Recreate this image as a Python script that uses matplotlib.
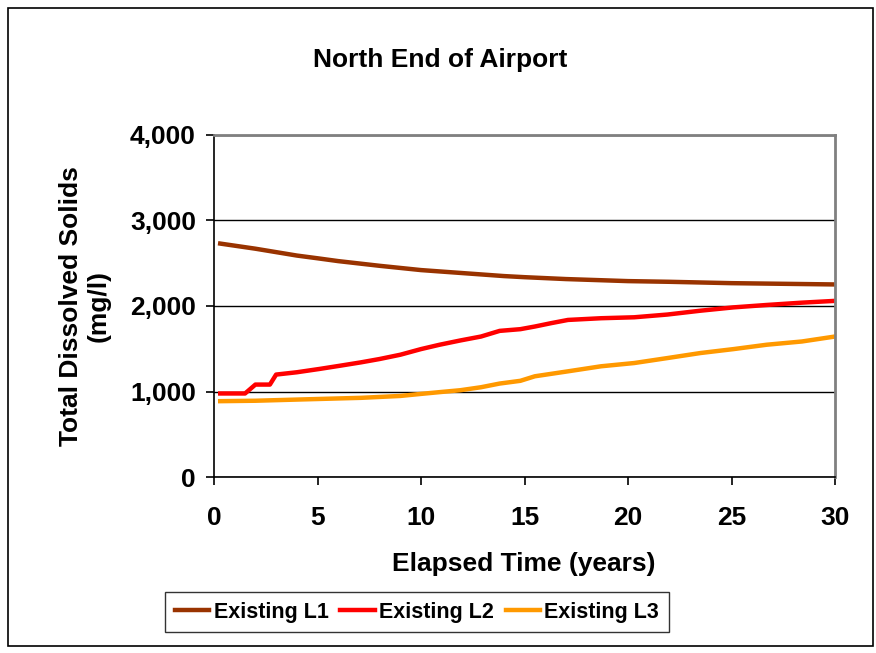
import matplotlib
matplotlib.use("Agg")
import matplotlib.pyplot as plt
from matplotlib.patches import Rectangle
from matplotlib.ticker import FuncFormatter

plt.rcParams['font.family'] = ['Liberation Sans', 'DejaVu Sans']
plt.rcParams['font.weight'] = 'bold'

# Total dissolved solids (mg/l) vs elapsed time (years)
l1_years = [0.3, 2, 4, 5, 6, 8, 9, 10, 12, 14, 15, 17, 20, 22, 25, 28, 30]
l1_tds = [2730, 2670, 2590, 2558, 2525, 2470, 2445, 2420, 2385, 2350, 2337, 2315, 2291, 2283, 2267, 2258, 2252]

l2_years = [0.3, 1.5, 2.0, 2.7, 3.0, 4.0, 5.1, 6.1, 7.1, 8.0, 9.0, 10.0, 10.9, 11.9, 12.9,
            13.8, 14.8, 15.5, 16.3, 17.1, 18.7, 20.3, 21.9, 23.5, 25.1, 26.7, 28.4, 30.0]
l2_tds = [977, 977, 1081, 1081, 1198, 1225, 1264, 1302, 1341, 1380, 1430, 1496, 1547, 1597, 1643,
          1709, 1729, 1760, 1800, 1837, 1857, 1868, 1900, 1945, 1984, 2012, 2039, 2060]

l3_years = [0.3, 2, 4.2, 7.1, 9.0, 10.0, 11.0, 11.9, 12.9, 13.8, 14.8, 15.5, 17.1, 18.7, 20.3,
            21.9, 23.5, 25.1, 26.7, 28.4, 30.0]
l3_tds = [887, 892, 907, 926, 948, 972, 995, 1015, 1050, 1093, 1125, 1178, 1236, 1295, 1333,
          1391, 1450, 1496, 1547, 1585, 1643]

series_labels = ['Existing L1', 'Existing L2', 'Existing L3']
series_colors = ['#993300', '#FF0000', '#FF9900']

x_ticks = [0, 5, 10, 15, 20, 25, 30]
y_ticks = [0, 1000, 2000, 3000, 4000]

fig = plt.figure(figsize=(8.76, 6.53), dpi=100)
ax = fig.add_axes([0.2443, 0.2695, 0.7089, 0.5238])

for xs, ys, lab, col in zip([l1_years, l2_years, l3_years], [l1_tds, l2_tds, l3_tds],
                            series_labels, series_colors):
    ax.plot(xs, ys, color=col, lw=3.2, label=lab)

ax.set_xlim(0, 30)
ax.set_ylim(0, 4000)
ax.set_xticks(x_ticks)
ax.set_yticks(y_ticks)
ax.yaxis.set_major_formatter(FuncFormatter(lambda v, p: f"{int(v):,}"))
ax.grid(axis='y', color='black', lw=1)
ax.set_axisbelow(True)

for side in ['top', 'right']:
    ax.spines[side].set_color('#808080')
    ax.spines[side].set_linewidth(2)
for side in ['left', 'bottom']:
    ax.spines[side].set_color('black')
    ax.spines[side].set_linewidth(1.2)

ax.tick_params(axis='y', direction='out', length=6, width=1.2, labelsize=19, pad=7)
ax.tick_params(axis='x', direction='out', length=6, width=1.2, labelsize=19, pad=15)
for t in ax.get_xticklabels() + ax.get_yticklabels():
    t.set_fontweight('bold')

ax.set_xlabel('Elapsed Time (years)', fontsize=19, fontweight='bold')
ax.xaxis.set_label_coords(0.499, -0.219)
ax.set_ylabel('Total Dissolved Solids\n(mg/l)', fontsize=19, fontweight='bold',
              linespacing=1.2)
ax.yaxis.set_label_coords(-0.166, 0.5)

fig.text(0.503, 0.908, 'North End of Airport', ha='center', va='center',
         fontsize=19, fontweight='bold')

leg = fig.legend(loc='center', bbox_to_anchor=(0.476, 0.0625), ncol=3, fontsize=15.5,
                 frameon=True, fancybox=False, edgecolor='black', handlelength=1.6,
                 handletextpad=0.2, columnspacing=0.55, borderpad=0.45, borderaxespad=0)
leg.get_frame().set_linewidth(1)
for t in leg.get_texts():
    t.set_fontweight('bold')

# outer chart border
fig.patches.append(Rectangle((0.009, 0.011), 0.988, 0.976, transform=fig.transFigure,
                             fill=False, edgecolor='black', lw=1.2))

fig.savefig('out.png', dpi=100)
